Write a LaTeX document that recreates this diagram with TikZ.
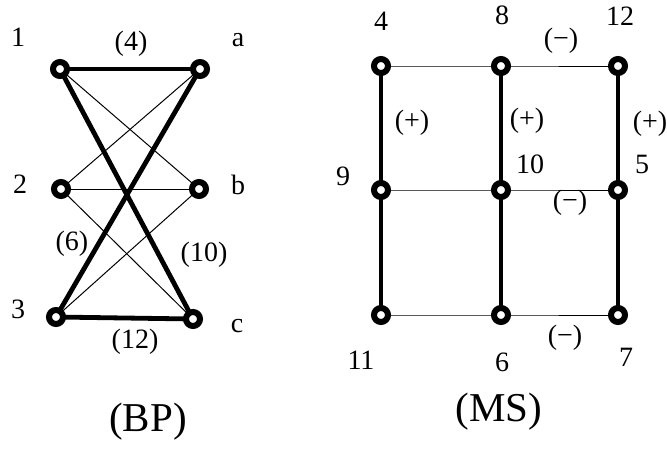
\documentclass[tikz,border=0pt]{standalone}
\usepackage{fontspec}
\setmainfont{Liberation Serif}
\usetikzlibrary{backgrounds}
\begin{document}
\begin{tikzpicture}[x=1pt,y=-1pt,
  vert/.style={circle,draw,line width=6pt,fill=white,minimum size=14pt,inner sep=0pt},
  thick edge/.style={line width=4.8pt},
  thin edge/.style={line width=1pt},
  lbl/.style={inner sep=0pt,font=\fontsize{28}{30}\selectfont},
  big/.style={inner sep=0pt,font=\fontsize{41}{44}\selectfont}]
\useasboundingbox (0,0) rectangle (667,474);
% left graph vertices
\node[vert] (v1) at (60,69) {};
\node[vert] (va) at (200,69) {};
\node[vert] (v2) at (61,189) {};
\node[vert] (vb) at (199,189) {};
\node[vert] (v3) at (56,317) {};
\node[vert] (vc) at (193,319) {};
\begin{scope}[on background layer]
\draw[thin edge] (v1.center) -- (vb.center);
\draw[thin edge] (va.center) -- (v2.center);
\draw[thin edge] (v2.center) -- (vb.center);
\draw[thin edge] (v2.center) -- (vc.center);
\draw[thin edge] (vb.center) -- (v3.center);
\draw[thick edge] (v1.center) -- (va.center);
\draw[thick edge] (v1.center) -- (vc.center);
\draw[thick edge] (va.center) -- (v3.center);
\draw[thick edge] (v3.center) -- (vc.center);
\end{scope}
\node[lbl] (l1) at (18,37) {1};
\node[lbl] (l4) at (131,44) {(4)};
\node[lbl] (la) at (238,40) {a};
\node[lbl] (l2) at (20,184) {2};
\node[lbl] (lb) at (238,185) {b};
\node[lbl] (l6) at (72,244) {(6)};
\node[lbl] (l10) at (204,255) {(10)};
\node[lbl] (l3) at (18,309) {3};
\node[lbl] (lc) at (237,326) {c};
\node[lbl] (l12) at (135,342) {(12)};
\node[big] (bp) at (148,422) {(BP)};
% right graph vertices
\node[vert] (m4) at (381,66) {};
\node[vert] (m8) at (501,66) {};
\node[vert] (m12) at (618,66) {};
\node[vert] (m9) at (381,190) {};
\node[vert] (m10) at (501,190) {};
\node[vert] (m5) at (618,190) {};
\node[vert] (m11) at (381,315) {};
\node[vert] (m6) at (501,315) {};
\node[vert] (m7) at (618,315) {};
\begin{scope}[on background layer]
\draw[thin edge] (m4.center) -- (m8.center) -- (m12.center);
\draw[thin edge] (m9.center) -- (m10.center) -- (m5.center);
\draw[thin edge] (m11.center) -- (m6.center) -- (m7.center);
\draw[thick edge] (m4.center) -- (m9.center) -- (m11.center);
\draw[thick edge] (m8.center) -- (m10.center) -- (m6.center);
\draw[thick edge] (m12.center) -- (m5.center) -- (m7.center);
\end{scope}
\node[lbl] (t4) at (381,21) {4};
\node[lbl] (t8) at (502,15) {8};
\node[lbl] (t12) at (620,16) {12};
\node[lbl] (tm1) at (561,41) {(−)};
\node[lbl] (tp1) at (412,123) {(+)};
\node[lbl] (tp2) at (527,121) {(+)};
\node[lbl] (tp3) at (650,124) {(+)};
\node[lbl] (t9) at (343,176) {9};
\node[lbl] (t10) at (530,164) {10};
\node[lbl] (t5) at (642,164) {5};
\node[lbl] (tm2) at (570,203) {(−)};
\node[lbl] (tm3) at (565,338) {(−)};
\node[lbl] (t11) at (361,360) {11};
\node[lbl] (t6) at (502,362) {6};
\node[lbl] (t7) at (626,357) {7};
\node[big] (ms) at (499,412) {(MS)};
\end{tikzpicture}
\end{document}
